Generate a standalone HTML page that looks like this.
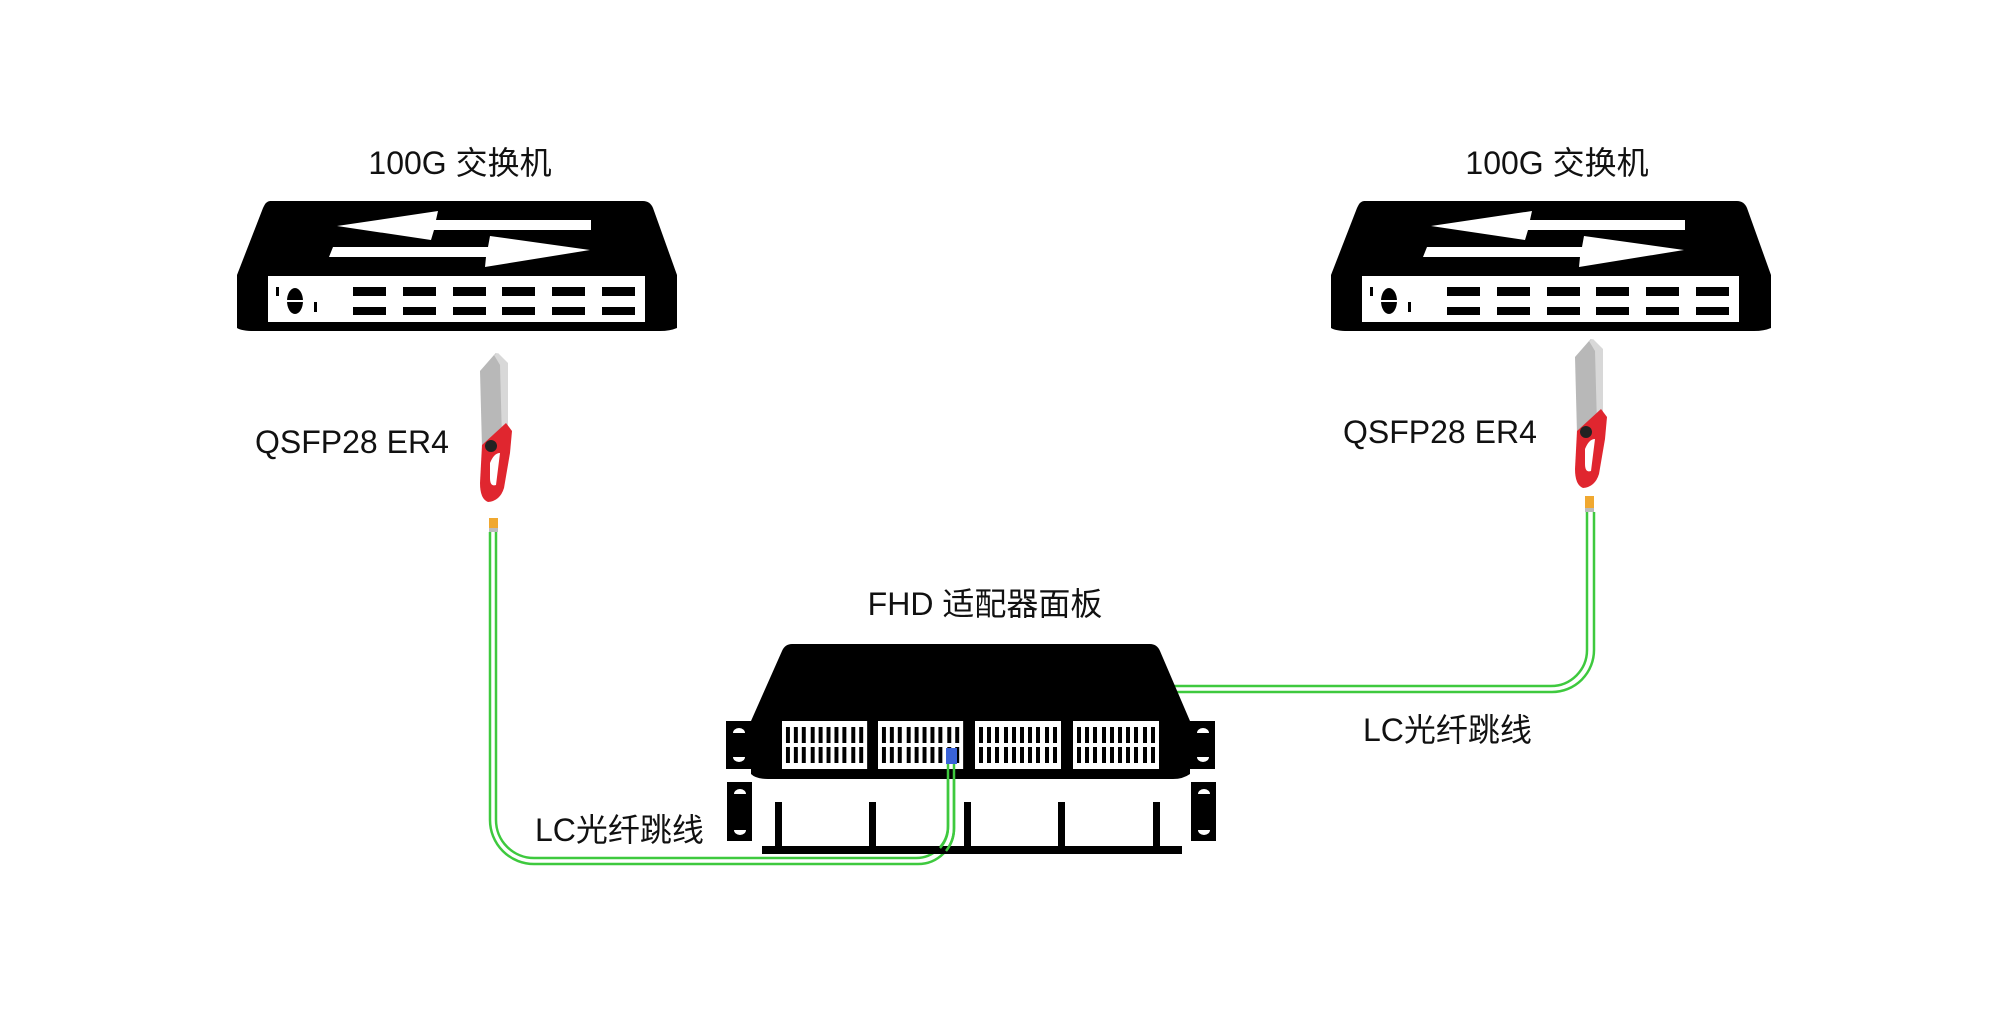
<!DOCTYPE html>
<html><head><meta charset="utf-8"><style>
html,body{margin:0;padding:0;background:#fff;}
svg{display:block}
text{font-family:"Liberation Sans","Noto Sans CJK SC",sans-serif;font-size:32px;fill:#111;}
</style></head><body>
<svg width="2007" height="1023" viewBox="0 0 2007 1023" xmlns="http://www.w3.org/2000/svg">
<defs>
<g id="sw">
  <path d="M270,201 H643 Q650,201 653,208 L677,275 V328 Q670,331 660,331 H254 Q242,331 237,328 V275 L263,208 Q266,201 270,201 Z" fill="#000"/>
  <rect x="268" y="276" width="377" height="46" fill="#fff"/>
  <polygon points="337,226 438,211 436,220 591,220 591,230 434,230 431,240" fill="#fff"/>
  <polygon points="333,247 488,247 490,236 590,250 485,267 486,257 329,257" fill="#fff"/>
  <rect x="276" y="287" width="3" height="9" fill="#000"/>
  <ellipse cx="295" cy="301" rx="8" ry="13" fill="#000"/>
  <rect x="286" y="300" width="18" height="2" fill="#fff"/>
  <rect x="314" y="302" width="3" height="10" fill="#000"/>
  <g fill="#000">
    <rect x="353" y="287" width="33" height="9"/><rect x="353" y="307" width="33" height="8"/>
    <rect x="403" y="287" width="33" height="9"/><rect x="403" y="307" width="33" height="8"/>
    <rect x="453" y="287" width="33" height="9"/><rect x="453" y="307" width="33" height="8"/>
    <rect x="502" y="287" width="33" height="9"/><rect x="502" y="307" width="33" height="8"/>
    <rect x="552" y="287" width="33" height="9"/><rect x="552" y="307" width="33" height="8"/>
    <rect x="602" y="287" width="33" height="9"/><rect x="602" y="307" width="33" height="8"/>
  </g>
</g>
<g id="tx">
  <polygon points="0,18 14,2 16,0 26,10 28,80 14,95 2,95" fill="#b8b8b8"/>
  <polygon points="14,2 18,0 28,10 28,80 22,86 20,12" fill="#d8d8d8"/>
  <path d="M2,92 L26,70 L32,78 L30,100 L24,135 Q20,148 8,149 Q0,146 0,130 Z" fill="#e0262f"/>
  <path d="M10,110 Q14,100 20,100 L16,132 Q10,134 10,125 Z" fill="#fff"/>
  <circle cx="11" cy="93" r="6" fill="#222"/>
</g>
<g id="win">
  <rect x="0" y="0" width="86" height="48" fill="#fff"/>
  <g fill="#000">
    <rect x="4" y="6" width="4" height="16"/><rect x="12" y="6" width="4" height="16"/><rect x="20" y="6" width="4" height="16"/><rect x="29" y="6" width="4" height="16"/><rect x="37" y="6" width="4" height="16"/><rect x="45" y="6" width="4" height="16"/><rect x="53" y="6" width="4" height="16"/><rect x="61" y="6" width="4" height="16"/><rect x="70" y="6" width="4" height="16"/><rect x="78" y="6" width="4" height="16"/>
    <rect x="4" y="26" width="4" height="16"/><rect x="12" y="26" width="4" height="16"/><rect x="20" y="26" width="4" height="16"/><rect x="29" y="26" width="4" height="16"/><rect x="37" y="26" width="4" height="16"/><rect x="45" y="26" width="4" height="16"/><rect x="53" y="26" width="4" height="16"/><rect x="61" y="26" width="4" height="16"/><rect x="70" y="26" width="4" height="16"/><rect x="78" y="26" width="4" height="16"/>
  </g>
</g>
<g id="ear">
  <rect x="0" y="0" width="25" height="48" fill="#000"/>
  <path d="M7,12 A6,5 0 0 1 19,12 Z" fill="#fff"/>
  <path d="M7,36 A6,5 0 0 0 19,36 Z" fill="#fff"/>
</g>
<g id="ear2">
  <rect x="0" y="0" width="25" height="59" fill="#000"/>
  <path d="M7,12 A6,5 0 0 1 19,12 Z" fill="#fff"/>
  <path d="M7,48 A6,5 0 0 0 19,48 Z" fill="#fff"/>
</g>
</defs>

<text x="460" y="174" text-anchor="middle">100G 交换机</text>
<text x="1557" y="174" text-anchor="middle">100G 交换机</text>
<use href="#sw"/>
<use href="#sw" transform="translate(1094,0)"/>

<text x="255" y="453">QSFP28 ER4</text>
<text x="1343" y="443">QSFP28 ER4</text>
<use href="#tx" transform="translate(480,353)"/>
<use href="#tx" transform="translate(1575,339)"/>

<!-- cables -->
<g fill="none" stroke="#3ec93e" stroke-width="2.5">
  <path d="M490,532 V820 A44,44 0 0 0 534,864 H918 A36,36 0 0 0 954,828 V764"/>
  <path d="M496,532 V820 A38,38 0 0 0 534,858 H916 A32,32 0 0 0 948,826 V764"/>
  <path d="M1587,512 V650 A36,36 0 0 1 1551,686 H1170"/>
  <path d="M1594,512 V650 A42,42 0 0 1 1552,692 H1172"/>
</g>
<rect x="489" y="518" width="9" height="10" fill="#f0a830"/>
<rect x="489" y="528" width="9" height="4" fill="#bbb"/>
<rect x="1585" y="496" width="9" height="12" fill="#f0a830"/>
<rect x="1585" y="508" width="9" height="4" fill="#bbb"/>

<!-- panel -->
<text x="985" y="615" text-anchor="middle">FHD 适配器面板</text>
<path d="M792,644 H1150 Q1157,644 1160,651 L1190,721 V774 Q1183,779 1173,779 H768 Q756,779 751,774 V721 L782,651 Q785,644 792,644 Z" fill="#000"/>
<use href="#ear" transform="translate(726,721)"/>
<use href="#ear" transform="translate(1190,721)"/>
<use href="#ear2" transform="translate(727,782)"/>
<use href="#ear2" transform="translate(1191,782)"/>
<use href="#win" transform="translate(782,721) scale(0.99,1)"/>
<use href="#win" transform="translate(878,721) scale(0.99,1)"/>
<use href="#win" transform="translate(975,721)"/>
<use href="#win" transform="translate(1073,721)"/>
<rect x="946" y="748" width="11" height="16" fill="#3a63d8"/>
<g fill="#000">
  <rect x="762" y="846" width="420" height="8"/>
  <rect x="775" y="802" width="7" height="45"/>
  <rect x="869" y="802" width="7" height="45"/>
  <rect x="964" y="802" width="7" height="45"/>
  <rect x="1058" y="802" width="7" height="45"/>
  <rect x="1153" y="802" width="7" height="45"/>
</g>
<g fill="none" stroke="#3ec93e" stroke-width="2.5">
  <path d="M948,764 V826 A32,32 0 0 1 940,848"/>
  <path d="M954,764 V828 A36,36 0 0 1 946,851"/>
</g>

<text x="535" y="841">LC光纤跳线</text>
<text x="1363" y="741">LC光纤跳线</text>
</svg>
</body></html>
